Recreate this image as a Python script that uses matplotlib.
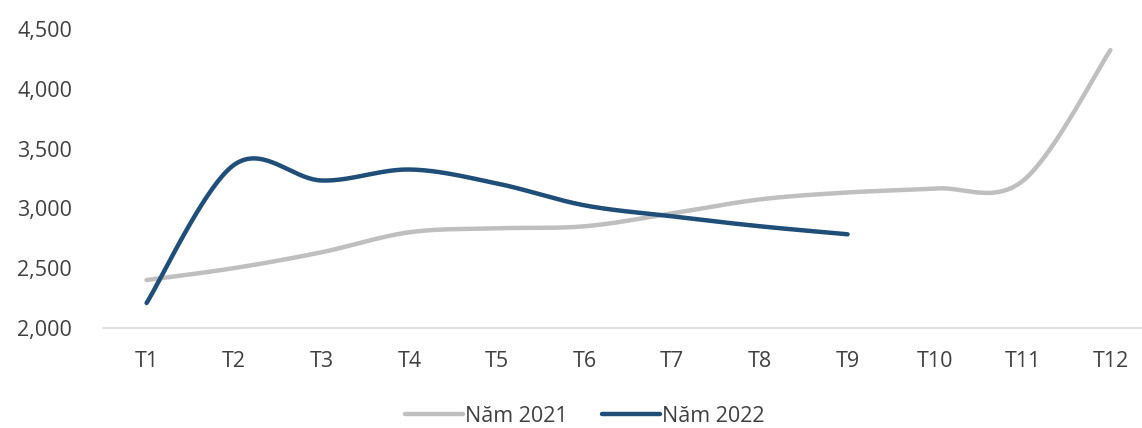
import numpy as np
import matplotlib.pyplot as plt
from matplotlib.ticker import FuncFormatter

plt.rcParams['font.family'] = ['Open Sans', 'DejaVu Sans']

# monthly values
months = ['T1', 'T2', 'T3', 'T4', 'T5', 'T6', 'T7', 'T8', 'T9', 'T10', 'T11', 'T12']
values_2021 = [2400, 2500, 2633, 2800, 2833, 2850, 2958, 3075, 3133, 3167, 3230, 4325]
values_2022 = [2208, 3365, 3233, 3325, 3208, 3025, 2933, 2850, 2783]


def smooth(ys, n=40):
    # Bezier smoothing through every point (tangents from neighbours)
    xs = np.arange(1, len(ys) + 1, dtype=float)
    pts = np.column_stack([xs, np.asarray(ys, dtype=float)])
    out = []
    for i in range(len(pts) - 1):
        p0 = pts[max(i - 1, 0)]
        p1 = pts[i]
        p2 = pts[i + 1]
        p3 = pts[min(i + 2, len(pts) - 1)]
        c1 = p1 + (p2 - p0) / 6
        c2 = p2 - (p3 - p1) / 6
        t = np.linspace(0, 1, n)[:, None]
        seg = ((1 - t) ** 3) * p1 + 3 * ((1 - t) ** 2) * t * c1 + 3 * (1 - t) * t ** 2 * c2 + t ** 3 * p2
        out.append(seg if i == 0 else seg[1:])
    seg = np.vstack(out)
    return seg[:, 0], seg[:, 1]


fig = plt.figure(figsize=(11.42, 4.28), dpi=100)
ax = fig.add_axes([0.090, 0.234, 0.910, 0.698])

x1, y1 = smooth(values_2021)
x2, y2 = smooth(values_2022)
ax.plot(x1, y1, color='#BFBFBF', lw=3.2, solid_capstyle='round', label='Năm 2021')
ax.plot(x2, y2, color='#1F4E79', lw=3.2, solid_capstyle='round', label='Năm 2022')

ax.set_ylim(2000, 4500)
ax.set_xlim(0.5, 12.36)
ax.set_yticks(range(2000, 4501, 500))
ax.yaxis.set_major_formatter(FuncFormatter(lambda v, p: f'{int(v):,}'))
ax.set_xticks(range(1, len(months) + 1))
ax.set_xticklabels(months)

for s in ['top', 'right', 'left']:
    ax.spines[s].set_visible(False)
ax.spines['bottom'].set_color('#D9D9D9')
ax.spines['bottom'].set_linewidth(1.2)
ax.tick_params(axis='both', length=0, labelsize=15.5, colors='#404040')
ax.tick_params(axis='y', pad=22)
ax.tick_params(axis='x', pad=17)

fig.legend(loc='lower center', bbox_to_anchor=(0.512, -0.042), ncol=2, frameon=False,
           fontsize=15.5, handlelength=2.7, handletextpad=0.1, columnspacing=1.6,
           labelcolor='#404040')

fig.savefig('out.png', dpi=100)
